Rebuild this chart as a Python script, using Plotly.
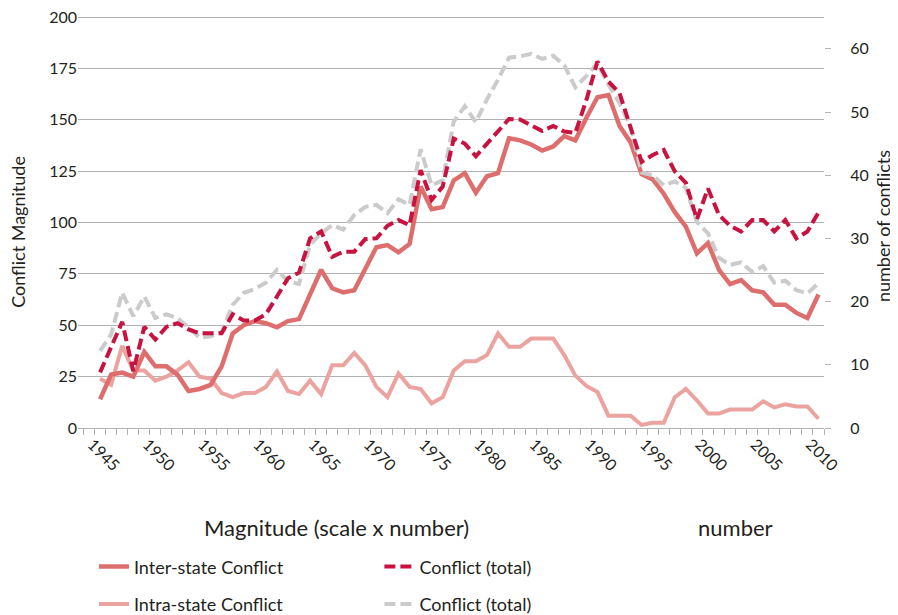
import plotly.graph_objects as go

years = list(range(1945, 2011))

# magnitude (left axis)
inter_state = [14, 26, 27, 25, 37, 30, 30, 26, 18, 19,
               21, 30, 46, 50, 52, 51, 49, 52, 53, 65,
               77, 68, 66, 67, 77, 88, 89, 85.5, 89.5, 117.5,
               106.5, 107.5, 120.5, 124, 114.5, 122.5, 124, 141, 140, 138,
               135, 137, 142, 140, 151, 161, 162, 147, 139, 123.5,
               121, 114, 105, 98, 85, 90, 77, 70, 72, 67,
               66, 60, 60, 56, 53.5, 65]
intra_state = [24, 21, 40, 28, 28, 23, 25, 28, 32, 25,
               24, 17, 15, 17, 17, 20, 27.5, 18, 16.5, 23,
               16.5, 30.5, 30.5, 36.5, 30.5, 20, 15, 26.5, 20, 19,
               12, 15, 28, 32.5, 32.5, 35.5, 46, 39.5, 39.5, 43.5,
               43.5, 43.5, 35.5, 25.5, 20.5, 17.5, 6, 6, 6, 1.5,
               2.5, 2.5, 15, 19, 13.5, 7, 7, 9, 9, 9,
               13, 10, 11.5, 10.5, 10.5, 4.5]

# number of conflicts (right axis)
total_red = [8.8, 13, 16.8, 9, 16, 14, 16, 16.6, 15.6, 15,
             15, 15, 18, 17, 17, 18, 20.8, 23.7, 24.6, 30,
             31.1, 27.1, 27.9, 27.9, 29.9, 30, 32, 32.9, 32.1, 40.8,
             36.1, 38.2, 45.8, 45, 43, 45, 47, 48.9, 48.8, 47.9,
             47, 47.8, 46.9, 46.7, 51.9, 58, 54.8, 53, 47.7, 42.1,
             43.2, 44, 40.6, 38.8, 33, 37.9, 33.7, 32, 31.1, 32.9,
             32.9, 31.1, 32.9, 30, 31.1, 34.1]
total_grey = [12.2, 14.8, 21.4, 17.7, 20.8, 17.4, 18, 17.4, 15.9, 14.3,
              14.5, 15.2, 19.5, 21.4, 22, 23, 25, 23.2, 22.8, 29,
              30.8, 32.1, 31.4, 33.7, 35, 35.3, 34, 36.2, 35.3, 44.1,
              38.4, 39.2, 48.5, 50.9, 48.4, 52, 55.1, 58.6, 58.8, 59.2,
              58.4, 58.9, 57.4, 53.9, 55.7, 57.7, 54.3, 51.4, 47.7, 40.4,
              40, 38.4, 39, 38, 32.6, 30.8, 26.9, 25.8, 26.2, 24.7,
              25.6, 23, 23.3, 21.8, 21.3, 22.9]

label_years = list(range(1945, 2011, 5))
right_ticks = [0, 10, 20, 30, 40, 50, 60]

txt = "#231f20"
grid = "#b3b3b3"
font = "Lato"

fig = go.Figure()

fig.add_trace(go.Scatter(x=years, y=intra_state, mode="lines", name="Intra-state Conflict",
                         line=dict(color="#eba3a0", width=4), legend="legend", legendrank=2,
                         legendgroup="b"))
fig.add_trace(go.Scatter(x=years, y=inter_state, mode="lines", name="Inter-state Conflict",
                         line=dict(color="#de6e6e", width=4.5), legend="legend", legendrank=1,
                         legendgroup="a"))
fig.add_trace(go.Scatter(x=years, y=total_grey, mode="lines", name="Conflict (total)",
                         line=dict(color="#cbcbcb", width=4, dash="11px,5px"), yaxis="y2",
                         legend="legend2", legendrank=2, legendgroup="d"))
fig.add_trace(go.Scatter(x=years, y=total_red, mode="lines", name="Conflict (total)",
                         line=dict(color="#c8123f", width=4, dash="11px,5px"), yaxis="y2",
                         legend="legend2", legendrank=1, legendgroup="c"))

# page body has an 8px margin, so the figure is a bit smaller than the window
fig.update_layout(
    width=890, height=607,
    margin=dict(l=70, r=74, t=8, b=187, autoexpand=False),
    paper_bgcolor="white", plot_bgcolor="white",
    font=dict(family=font, size=16, color=txt),
    xaxis=dict(range=[1943.0, 2010.5], tickvals=label_years, tickangle=45,
               ticks="", showgrid=False, showline=True, linecolor=grid, linewidth=1,
               tickfont=dict(size=16), ticklabelshift=-8, automargin=False,
               minor=dict(ticks="outside", tick0=1943.5, dtick=1, ticklen=6,
                          tickcolor=grid, showgrid=False)),
    yaxis=dict(range=[0, 200.5], dtick=25, showgrid=True, gridcolor=grid, gridwidth=1,
               zeroline=False, ticks="", automargin=False, ticklabeloverflow="allow"),
    yaxis2=dict(range=[0, 65.19], tickvals=right_ticks,
                ticktext=["\u2002\u2002" + str(v) for v in right_ticks],
                overlaying="y", side="right", showgrid=False,
                zeroline=False, ticks="outside", ticklen=6, tickcolor=grid, automargin=False,
                ticklabeloverflow="allow"),
    legend=dict(x=0.0214, xanchor="left", y=-0.292, yanchor="top", traceorder="grouped",
                tracegroupgap=11, font=dict(size=18), bgcolor="rgba(0,0,0,0)"),
    legend2=dict(x=0.404, xanchor="left", y=-0.292, yanchor="top", traceorder="grouped",
                 tracegroupgap=11, font=dict(size=18), bgcolor="rgba(0,0,0,0)"),
    annotations=[
        dict(text="Conflict Magnitude", textangle=-90, x=-0.0805, y=0.476,
             xref="paper", yref="paper", xanchor="center", yanchor="middle",
             showarrow=False, font=dict(size=18, color=txt)),
        dict(text="number of conflicts", textangle=-90, x=1.079, y=0.490,
             xref="paper", yref="paper", xanchor="center", yanchor="middle",
             showarrow=False, font=dict(size=18, color=txt)),
        dict(text="Magnitude (scale x number)", x=0.347, y=-0.241, xref="paper", yref="paper",
             xanchor="center", yanchor="middle", showarrow=False, font=dict(size=22, color=txt)),
        dict(text="number", x=0.881, y=-0.241, xref="paper", yref="paper",
             xanchor="center", yanchor="middle", showarrow=False, font=dict(size=22, color=txt)),
    ],
)

fig.write_html("out.html")
